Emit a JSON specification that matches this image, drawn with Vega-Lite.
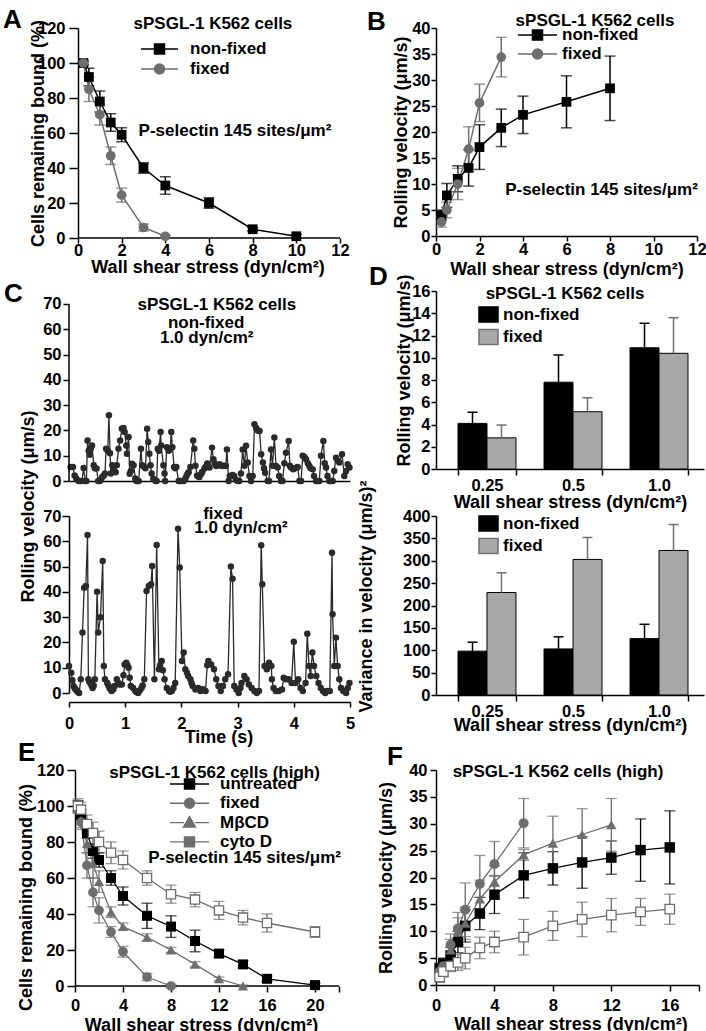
{
"$schema": "https://vega.github.io/schema/vega-lite/v6.json",
"padding": {"left": 2, "top": 6, "right": 0, "bottom": 0},
"config": {
  "font": "Liberation Sans",
  "view": {"stroke": null},
  "axis": {"labelFont": "Liberation Sans", "labelFontSize": 16.5, "labelFontWeight": "bold", "labelColor": "#000000", "titleFont": "Liberation Sans", "titleFontSize": 18, "titleFontWeight": "bold", "titleColor": "#000000", "domainColor": "#000000", "domainWidth": 1.5, "tickColor": "#000000", "tickWidth": 1.5, "grid": false, "labelFlush": false, "labelOverlap": false, "labelBound": false},
  "axisY": {"titleAngle": -90, "titleBaseline": "bottom", "titleAlign": "center"},
  "legend": {"padding": 0, "labelFont": "Liberation Sans", "labelFontSize": 17, "labelFontWeight": "bold", "labelColor": "#000000", "labelLimit": 300},
  "text": {"font": "Liberation Sans", "fontWeight": "bold", "fontSize": 17, "color": "#000000"}
},
"datasets": {
  "A": [
    {"s":"non-fixed","x":0.25,"y":100,"e":1},{"s":"non-fixed","x":0.5,"y":92,"e":5},{"s":"non-fixed","x":1,"y":78,"e":6},{"s":"non-fixed","x":1.5,"y":66,"e":5},{"s":"non-fixed","x":2,"y":59,"e":4},{"s":"non-fixed","x":3,"y":40,"e":3},{"s":"non-fixed","x":4,"y":30,"e":5},{"s":"non-fixed","x":6,"y":20,"e":3},{"s":"non-fixed","x":8,"y":5,"e":1},{"s":"non-fixed","x":10,"y":1,"e":1},
    {"s":"fixed","x":0.25,"y":100,"e":1},{"s":"fixed","x":0.5,"y":85,"e":7},{"s":"fixed","x":1,"y":70.5,"e":6},{"s":"fixed","x":1.5,"y":47,"e":5},{"s":"fixed","x":2,"y":24.5,"e":4},{"s":"fixed","x":3,"y":6,"e":2},{"s":"fixed","x":4,"y":1,"e":0.5}
  ],
  "B": [
    {"s":"non-fixed","x":0.25,"y":4,"e":1},{"s":"non-fixed","x":0.5,"y":7.8,"e":2.3},{"s":"non-fixed","x":1,"y":11,"e":2.5},{"s":"non-fixed","x":1.5,"y":13.1,"e":3.5},{"s":"non-fixed","x":2,"y":17.1,"e":4.3},{"s":"non-fixed","x":3,"y":20.8,"e":3.6},{"s":"non-fixed","x":4,"y":23.3,"e":3.6},{"s":"non-fixed","x":6,"y":25.8,"e":5},{"s":"non-fixed","x":8,"y":28.4,"e":6.2},
    {"s":"fixed","x":0.25,"y":2.7,"e":1},{"s":"fixed","x":0.5,"y":5,"e":1.5},{"s":"fixed","x":1,"y":10,"e":3},{"s":"fixed","x":1.5,"y":16.7,"e":4.3},{"s":"fixed","x":2,"y":25.6,"e":3.6},{"s":"fixed","x":3,"y":34.4,"e":3.8}
  ],
  "Ct": [
    {"t":0.03,"v":5.5},{"t":0.07,"v":5.5},{"t":0.10,"v":2.2},{"t":0.13,"v":1.0},{"t":0.17,"v":0},{"t":0.20,"v":0},{"t":0.23,"v":0},{"t":0.26,"v":5.1},{"t":0.29,"v":0},{"t":0.31,"v":0},{"t":0.33,"v":16},{"t":0.35,"v":12},{"t":0.37,"v":10.4},{"t":0.39,"v":13},{"t":0.41,"v":14},{"t":0.44,"v":6.2},{"t":0.46,"v":5},{"t":0.49,"v":4.9},{"t":0.52,"v":0},{"t":0.55,"v":0},{"t":0.57,"v":0.5},{"t":0.59,"v":1.6},{"t":0.62,"v":2.2},{"t":0.64,"v":3},{"t":0.66,"v":12.8},{"t":0.69,"v":12},{"t":0.71,"v":26},{"t":0.73,"v":11},{"t":0.745,"v":3},{"t":0.77,"v":6.2},{"t":0.80,"v":4},{"t":0.83,"v":3.5},{"t":0.85,"v":6.2},{"t":0.88,"v":12.8},{"t":0.91,"v":16},{"t":0.94,"v":20.7},{"t":0.97,"v":21},{"t":0.99,"v":19.4},{"t":1.02,"v":14},{"t":1.03,"v":10.8},{"t":1.06,"v":17.4},{"t":1.08,"v":2.9},{"t":1.10,"v":4},{"t":1.12,"v":6.8},{"t":1.15,"v":6.2},{"t":1.18,"v":1},{"t":1.20,"v":0},{"t":1.22,"v":0},{"t":1.24,"v":0},{"t":1.28,"v":12.8},{"t":1.30,"v":6.2},{"t":1.34,"v":5.5},{"t":1.36,"v":5},{"t":1.39,"v":20.7},{"t":1.41,"v":15.4},{"t":1.43,"v":10.8},{"t":1.45,"v":6.2},{"t":1.47,"v":3},{"t":1.50,"v":0.9},{"t":1.54,"v":0},{"t":1.56,"v":0},{"t":1.58,"v":12.8},{"t":1.60,"v":12},{"t":1.63,"v":19.4},{"t":1.64,"v":14},{"t":1.68,"v":6.2},{"t":1.70,"v":3},{"t":1.71,"v":0},{"t":1.74,"v":13.4},{"t":1.77,"v":12},{"t":1.80,"v":12.5},{"t":1.82,"v":19.4},{"t":1.84,"v":13.4},{"t":1.87,"v":5.5},{"t":1.89,"v":5},{"t":1.91,"v":5.5},{"t":1.95,"v":0},{"t":1.98,"v":0},{"t":2.00,"v":0},{"t":2.04,"v":0},{"t":2.07,"v":0.9},{"t":2.09,"v":2},{"t":2.11,"v":2.9},{"t":2.13,"v":3.5},{"t":2.16,"v":5.5},{"t":2.21,"v":16},{"t":2.23,"v":12.8},{"t":2.25,"v":6},{"t":2.28,"v":2.2},{"t":2.30,"v":1.8},{"t":2.32,"v":1.6},{"t":2.35,"v":2.8},{"t":2.37,"v":3.6},{"t":2.41,"v":4.9},{"t":2.43,"v":5.5},{"t":2.46,"v":6.9},{"t":2.50,"v":5.3},{"t":2.545,"v":13.2},{"t":2.57,"v":8.6},{"t":2.59,"v":7},{"t":2.62,"v":5.9},{"t":2.65,"v":6.2},{"t":2.68,"v":6.6},{"t":2.71,"v":6},{"t":2.735,"v":5.9},{"t":2.76,"v":6},{"t":2.79,"v":5.9},{"t":2.81,"v":12.5},{"t":2.84,"v":0},{"t":2.86,"v":2},{"t":2.88,"v":2},{"t":2.91,"v":2.4},{"t":2.94,"v":2},{"t":2.97,"v":0.5},{"t":3.00,"v":0},{"t":3.03,"v":0},{"t":3.06,"v":3},{"t":3.09,"v":12.5},{"t":3.12,"v":6},{"t":3.15,"v":13.9},{"t":3.18,"v":7.3},{"t":3.21,"v":2},{"t":3.24,"v":0},{"t":3.27,"v":2},{"t":3.30,"v":22.4},{"t":3.33,"v":21},{"t":3.36,"v":20},{"t":3.39,"v":19.8},{"t":3.42,"v":10.6},{"t":3.45,"v":7.3},{"t":3.47,"v":5},{"t":3.49,"v":3.3},{"t":3.535,"v":0},{"t":3.56,"v":0},{"t":3.594,"v":12.5},{"t":3.62,"v":6},{"t":3.654,"v":17.2},{"t":3.683,"v":5.9},{"t":3.713,"v":5.3},{"t":3.74,"v":2},{"t":3.772,"v":0},{"t":3.80,"v":0},{"t":3.832,"v":7},{"t":3.861,"v":11.2},{"t":3.909,"v":15.8},{"t":3.93,"v":6},{"t":3.95,"v":5.3},{"t":3.99,"v":4.6},{"t":4.02,"v":5},{"t":4.051,"v":5.3},{"t":4.07,"v":5.5},{"t":4.099,"v":0},{"t":4.13,"v":0},{"t":4.158,"v":10},{"t":4.19,"v":9.5},{"t":4.217,"v":8.6},{"t":4.25,"v":7},{"t":4.276,"v":5.9},{"t":4.30,"v":5},{"t":4.336,"v":4.6},{"t":4.36,"v":2},{"t":4.395,"v":0},{"t":4.42,"v":0},{"t":4.454,"v":0},{"t":4.484,"v":10},{"t":4.526,"v":15.8},{"t":4.55,"v":7},{"t":4.573,"v":5.3},{"t":4.60,"v":2},{"t":4.632,"v":0},{"t":4.66,"v":0},{"t":4.692,"v":0},{"t":4.72,"v":4},{"t":4.751,"v":9.2},{"t":4.78,"v":8},{"t":4.81,"v":7.3},{"t":4.858,"v":10.6},{"t":4.899,"v":2},{"t":4.93,"v":4},{"t":4.959,"v":6.6},{"t":4.99,"v":5.3}
  ],
  "Cb": [
    {"t":0.00,"v":10.7},{"t":0.04,"v":8},{"t":0.06,"v":5},{"t":0.08,"v":2.8},{"t":0.10,"v":2},{"t":0.12,"v":1.4},{"t":0.15,"v":0.5},{"t":0.18,"v":0},{"t":0.21,"v":5.4},{"t":0.24,"v":23.9},{"t":0.27,"v":41.6},{"t":0.30,"v":42.3},{"t":0.33,"v":62.5},{"t":0.345,"v":5.4},{"t":0.36,"v":4.5},{"t":0.38,"v":4},{"t":0.40,"v":3},{"t":0.42,"v":2},{"t":0.44,"v":3},{"t":0.46,"v":5.4},{"t":0.50,"v":40},{"t":0.52,"v":23.9},{"t":0.56,"v":30},{"t":0.60,"v":52.2},{"t":0.62,"v":10.7},{"t":0.64,"v":5.4},{"t":0.68,"v":4},{"t":0.70,"v":3},{"t":0.72,"v":2},{"t":0.74,"v":1.5},{"t":0.76,"v":0.8},{"t":0.79,"v":1.5},{"t":0.81,"v":2.8},{"t":0.85,"v":5.4},{"t":0.88,"v":4},{"t":0.90,"v":3.4},{"t":0.94,"v":3.4},{"t":0.97,"v":7},{"t":0.99,"v":11.3},{"t":1.02,"v":12},{"t":1.04,"v":11},{"t":1.06,"v":10},{"t":1.08,"v":6},{"t":1.10,"v":2.8},{"t":1.14,"v":2},{"t":1.18,"v":0.8},{"t":1.20,"v":0.4},{"t":1.23,"v":0},{"t":1.26,"v":1},{"t":1.29,"v":2},{"t":1.31,"v":3},{"t":1.34,"v":5.4},{"t":1.38,"v":40.3},{"t":1.42,"v":42.3},{"t":1.46,"v":43},{"t":1.48,"v":50.2},{"t":1.52,"v":5.4},{"t":1.56,"v":58.5},{"t":1.60,"v":9.4},{"t":1.62,"v":11},{"t":1.65,"v":12.7},{"t":1.67,"v":9},{"t":1.70,"v":5.4},{"t":1.74,"v":2},{"t":1.78,"v":0.8},{"t":1.80,"v":0.5},{"t":1.83,"v":0.8},{"t":1.86,"v":2},{"t":1.89,"v":4},{"t":1.94,"v":65},{"t":1.97,"v":49.6},{"t":2.01,"v":12.7},{"t":2.04,"v":16},{"t":2.07,"v":9.4},{"t":2.10,"v":8},{"t":2.12,"v":6.7},{"t":2.16,"v":5.4},{"t":2.18,"v":4},{"t":2.20,"v":2.8},{"t":2.25,"v":1.4},{"t":2.30,"v":2},{"t":2.34,"v":0.8},{"t":2.38,"v":1.5},{"t":2.43,"v":0.8},{"t":2.46,"v":11},{"t":2.48,"v":12.7},{"t":2.53,"v":11.3},{"t":2.58,"v":9.4},{"t":2.62,"v":5.4},{"t":2.66,"v":2.8},{"t":2.70,"v":0.8},{"t":2.74,"v":2.8},{"t":2.78,"v":5.4},{"t":2.83,"v":7.4},{"t":2.88,"v":50},{"t":2.91,"v":45.2},{"t":2.94,"v":2.8},{"t":2.98,"v":1.4},{"t":3.02,"v":0},{"t":3.05,"v":2},{"t":3.07,"v":4},{"t":3.12,"v":6.7},{"t":3.16,"v":5.4},{"t":3.20,"v":3.4},{"t":3.25,"v":2},{"t":3.30,"v":0.8},{"t":3.34,"v":0},{"t":3.38,"v":0.8},{"t":3.42,"v":58.4},{"t":3.44,"v":43},{"t":3.48,"v":10.7},{"t":3.52,"v":9.4},{"t":3.56,"v":12},{"t":3.60,"v":10.7},{"t":3.61,"v":5.4},{"t":3.64,"v":2},{"t":3.68,"v":0.8},{"t":3.73,"v":0.8},{"t":3.79,"v":1.4},{"t":3.82,"v":6},{"t":3.86,"v":5.4},{"t":3.91,"v":5.4},{"t":3.96,"v":4},{"t":4.00,"v":20.3},{"t":4.03,"v":4},{"t":4.08,"v":5.4},{"t":4.12,"v":2},{"t":4.16,"v":0.8},{"t":4.21,"v":4},{"t":4.24,"v":23.4},{"t":4.27,"v":10.7},{"t":4.30,"v":6.7},{"t":4.33,"v":16},{"t":4.36,"v":10.7},{"t":4.40,"v":6.7},{"t":4.44,"v":4},{"t":4.48,"v":2},{"t":4.52,"v":0.8},{"t":4.56,"v":0},{"t":4.60,"v":0.8},{"t":4.64,"v":0.8},{"t":4.68,"v":55.5},{"t":4.69,"v":31.1},{"t":4.72,"v":10.7},{"t":4.75,"v":21.9},{"t":4.78,"v":10.7},{"t":4.81,"v":5.4},{"t":4.84,"v":2},{"t":4.88,"v":0.8},{"t":4.93,"v":0},{"t":4.96,"v":2},{"t":4.99,"v":4}
  ],
  "Dt": [
    {"g":"0.25","s":"non-fixed","v":4.1,"hi":5.1},{"g":"0.25","s":"fixed","v":2.8,"hi":3.95},{"g":"0.5","s":"non-fixed","v":7.8,"hi":10.25},{"g":"0.5","s":"fixed","v":5.15,"hi":6.4},{"g":"1.0","s":"non-fixed","v":10.9,"hi":13.1},{"g":"1.0","s":"fixed","v":10.4,"hi":13.6}
  ],
  "Db": [
    {"g":"0.25","s":"non-fixed","v":98,"hi":118},{"g":"0.25","s":"fixed","v":229,"hi":273},{"g":"0.5","s":"non-fixed","v":103,"hi":130},{"g":"0.5","s":"fixed","v":303,"hi":352},{"g":"1.0","s":"non-fixed","v":126,"hi":158},{"g":"1.0","s":"fixed","v":323,"hi":381}
  ],
  "E": [
    {"s":"untreated","x":0.25,"y":100,"e":3},{"s":"untreated","x":0.5,"y":95,"e":3},{"s":"untreated","x":1,"y":85,"e":3},{"s":"untreated","x":1.5,"y":75,"e":4},{"s":"untreated","x":2,"y":70,"e":4},{"s":"untreated","x":3,"y":60,"e":4},{"s":"untreated","x":4,"y":50,"e":5},{"s":"untreated","x":6,"y":39,"e":7},{"s":"untreated","x":8,"y":33,"e":6},{"s":"untreated","x":10,"y":25,"e":6},{"s":"untreated","x":12,"y":18,"e":2},{"s":"untreated","x":14,"y":12,"e":2},{"s":"untreated","x":16,"y":4,"e":1.5},{"s":"untreated","x":20,"y":0.5,"e":1},
    {"s":"fixed","x":0.25,"y":100,"e":3},{"s":"fixed","x":0.5,"y":91,"e":4},{"s":"fixed","x":1,"y":67,"e":7},{"s":"fixed","x":1.5,"y":52,"e":8},{"s":"fixed","x":2,"y":42,"e":7},{"s":"fixed","x":3,"y":30,"e":3},{"s":"fixed","x":4,"y":19,"e":3},{"s":"fixed","x":6,"y":5,"e":2},{"s":"fixed","x":8,"y":0,"e":1},
    {"s":"MβCD","x":0.25,"y":99,"e":3},{"s":"MβCD","x":0.5,"y":92,"e":4},{"s":"MβCD","x":1,"y":79,"e":5},{"s":"MβCD","x":1.5,"y":68,"e":8},{"s":"MβCD","x":2,"y":58,"e":6},{"s":"MβCD","x":3,"y":41,"e":3},{"s":"MβCD","x":4,"y":33,"e":2},{"s":"MβCD","x":6,"y":27,"e":2},{"s":"MβCD","x":8,"y":20,"e":1.5},{"s":"MβCD","x":10,"y":12,"e":1.5},{"s":"MβCD","x":12,"y":4,"e":1},{"s":"MβCD","x":14,"y":0,"e":0.5},
    {"s":"cyto D","x":0.25,"y":100,"e":4},{"s":"cyto D","x":0.5,"y":98,"e":4},{"s":"cyto D","x":1,"y":90,"e":5},{"s":"cyto D","x":1.5,"y":85,"e":6},{"s":"cyto D","x":2,"y":80,"e":6},{"s":"cyto D","x":3,"y":74,"e":6},{"s":"cyto D","x":4,"y":70,"e":5},{"s":"cyto D","x":6,"y":60,"e":4},{"s":"cyto D","x":8,"y":51,"e":5},{"s":"cyto D","x":10,"y":48,"e":4},{"s":"cyto D","x":12,"y":42,"e":5},{"s":"cyto D","x":14,"y":38,"e":4},{"s":"cyto D","x":16,"y":35,"e":5},{"s":"cyto D","x":20,"y":30,"e":3}
  ],
  "F": [
    {"s":"untreated","x":0.25,"y":3,"e":1},{"s":"untreated","x":0.5,"y":4,"e":1},{"s":"untreated","x":1,"y":5.5,"e":1.5},{"s":"untreated","x":1.5,"y":8,"e":2},{"s":"untreated","x":2,"y":11,"e":3},{"s":"untreated","x":3,"y":13.3,"e":3},{"s":"untreated","x":4,"y":16.8,"e":3.5},{"s":"untreated","x":6,"y":20.4,"e":4.2},{"s":"untreated","x":8,"y":21.7,"e":3.1},{"s":"untreated","x":10,"y":22.8,"e":4.8},{"s":"untreated","x":12,"y":23.7,"e":3.1},{"s":"untreated","x":14,"y":25.1,"e":5.8},{"s":"untreated","x":16,"y":25.6,"e":6.8},
    {"s":"fixed","x":0.25,"y":2.5,"e":1},{"s":"fixed","x":0.5,"y":3.5,"e":1},{"s":"fixed","x":1,"y":7.5,"e":2},{"s":"fixed","x":1.5,"y":10.5,"e":3},{"s":"fixed","x":2,"y":14,"e":5},{"s":"fixed","x":3,"y":18.8,"e":5.3},{"s":"fixed","x":4,"y":22.5,"e":4.2},{"s":"fixed","x":6,"y":30.1,"e":4.6},
    {"s":"MβCD","x":0.25,"y":2,"e":1},{"s":"MβCD","x":0.5,"y":3,"e":1},{"s":"MβCD","x":1,"y":6.5,"e":2},{"s":"MβCD","x":1.5,"y":10,"e":2.5},{"s":"MβCD","x":2,"y":11.5,"e":3},{"s":"MβCD","x":3,"y":16,"e":3.5},{"s":"MβCD","x":4,"y":19.2,"e":3},{"s":"MβCD","x":6,"y":24.2,"e":1},{"s":"MβCD","x":8,"y":26.4,"e":5},{"s":"MβCD","x":10,"y":28,"e":4.8},{"s":"MβCD","x":12,"y":29.8,"e":4.9},
    {"s":"cyto D","x":0.25,"y":1.5,"e":1},{"s":"cyto D","x":0.5,"y":2.5,"e":1},{"s":"cyto D","x":1,"y":3.5,"e":1},{"s":"cyto D","x":1.5,"y":4.2,"e":1.5},{"s":"cyto D","x":2,"y":5,"e":2},{"s":"cyto D","x":3,"y":6.9,"e":2},{"s":"cyto D","x":4,"y":8,"e":2},{"s":"cyto D","x":6,"y":8.9,"e":3.3},{"s":"cyto D","x":8,"y":11,"e":2.7},{"s":"cyto D","x":10,"y":12.2,"e":3.2},{"s":"cyto D","x":12,"y":13,"e":3.1},{"s":"cyto D","x":14,"y":13.6,"e":2.5},{"s":"cyto D","x":16,"y":14.1,"e":2.8}
  ]
},
"resolve": {"scale": {"color": "independent", "fill": "independent"}, "legend": {"color": "independent", "fill": "independent"}},
"bounds": "flush",
"align": "none",
"spacing": 0,
"columns": 4,
"concat": [
  {"width": 10, "height": 1, "data": {"values": [{}]}, "mark": {"type": "point", "opacity": 0}},
  {
    "width": 271, "height": 210,
    "data": {"name": "A"},
    "encoding": {
      "x": {"field": "x", "type": "quantitative", "scale": {"domain": [-0.412, 12], "nice": false, "zero": false}, "axis": {"values": [0,2,4,6,8,10,12], "domain": false, "title": "Wall shear stress (dyn/cm²)", "tickSize": 5, "labelPadding": -1, "titleY": 20, "titleX": 138.5}},
      "y": {"field": "y", "type": "quantitative", "scale": {"domain": [0, 120]}, "axis": {"values": [0,20,40,60,80,100,120], "offset": -9, "title": "Cells remaining bound (%)", "tickSize": 9, "labelPadding": 4, "titleX": -31}},
      "color": {"field": "s", "type": "nominal", "scale": {"domain": ["non-fixed", "fixed"], "range": ["#000000", "#6e6e6e"]}, "legend": {"orient": "none", "legendX": 82, "legendY": 12.5, "title": null, "symbolSize": 100, "labelOffset": 22, "rowPadding": 2, "encode": {"symbols": {"update": {"shape": {"signal": "datum.value === 'fixed' ? 'M-3.7,0H-1M1,0H3.7M-1,0A1,1,0,1,0,1,0A1,1,0,1,0,-1,0Z' : 'M-3.7,0H-1M1,0H3.7M-1,-1H1V1H-1Z'"}, "fill": {"signal": "datum.value === 'fixed' ? '#6e6e6e' : '#000000'"}, "stroke": {"signal": "datum.value === 'fixed' ? '#6e6e6e' : '#000000'"}, "strokeWidth": {"value": 1.5}, "opacity": {"value": 1}}}}}}
    },
    "layer": [
      {"transform": [{"filter": "datum.s == 'fixed' && datum.x == 4"}], "mark": {"type": "rule", "strokeWidth": 1.5}, "encoding": {"x": {"datum": 0}, "x2": {"datum": 12}, "y": {"datum": 0}, "color": {"value": "#000000"}}},
      {"mark": {"type": "errorbar", "ticks": true, "size": 11, "thickness": 1.5}, "encoding": {"yError": {"field": "e"}}},
      {"mark": {"type": "line", "strokeWidth": 1.5}, "encoding": {}},
      {"transform": [{"filter": "datum.s == 'non-fixed'"}], "mark": {"type": "point", "shape": "square", "filled": true, "opacity": 1, "size": 95}, "encoding": {}},
      {"transform": [{"filter": "datum.s == 'fixed'"}], "mark": {"type": "point", "shape": "circle", "filled": true, "opacity": 1, "size": 95}, "encoding": {}},
      {"transform": [{"filter": "datum.s == 'fixed' && datum.x == 4"}], "mark": {"type": "text"}, "encoding": {"x": {"datum": 6.18}, "y": {"datum": 122.3}, "text": {"value": "sPSGL-1 K562 cells"}, "color": {"value": "#000000"}}},
      {"transform": [{"filter": "datum.s == 'fixed' && datum.x == 4"}], "mark": {"type": "text"}, "encoding": {"x": {"datum": 7.19}, "y": {"datum": 61.1}, "text": {"value": "P-selectin 145 sites/μm²"}, "color": {"value": "#000000"}}},
      {"transform": [{"filter": "datum.s == 'fixed' && datum.x == 4"}], "mark": {"type": "text", "fontSize": 26, "align": "left", "baseline": "alphabetic"}, "encoding": {"x": {"datum": -3.435}, "y": {"datum": 120.2}, "text": {"value": "A"}, "color": {"value": "#000000"}}}
    ]
  },
  {"width": 86, "height": 1, "data": {"values": [{}]}, "mark": {"type": "point", "opacity": 0}},
  {
    "width": 261, "height": 208,
    "data": {"name": "B"},
    "encoding": {
      "x": {"field": "x", "type": "quantitative", "scale": {"domain": [0, 12]}, "axis": {"values": [0,2,4,6,8,10,12], "title": "Wall shear stress (dyn/cm²)", "tickSize": 5, "labelPadding": 0, "titleY": 24}},
      "y": {"field": "y", "type": "quantitative", "scale": {"domain": [0, 40]}, "axis": {"values": [0,5,10,15,20,25,30,35,40], "title": "Rolling velocity (μm/s)", "tickSize": 5, "labelPadding": 1, "titleX": -26}},
      "color": {"field": "s", "type": "nominal", "scale": {"domain": ["non-fixed", "fixed"], "range": ["#000000", "#6e6e6e"]}, "legend": {"orient": "none", "legendX": 93, "legendY": -1.5, "title": null, "symbolSize": 100, "labelOffset": 16, "rowPadding": 1, "encode": {"symbols": {"update": {"shape": {"signal": "datum.value === 'fixed' ? 'M-3.9,0H-1M1,0H3.9M-1,0A1,1,0,1,0,1,0A1,1,0,1,0,-1,0Z' : 'M-3.9,0H-1M1,0H3.9M-1,-1H1V1H-1Z'"}, "fill": {"signal": "datum.value === 'fixed' ? '#6e6e6e' : '#000000'"}, "stroke": {"signal": "datum.value === 'fixed' ? '#6e6e6e' : '#000000'"}, "strokeWidth": {"value": 1.5}, "opacity": {"value": 1}}}}}}
    },
    "layer": [
      {"mark": {"type": "errorbar", "ticks": true, "size": 11, "thickness": 1.5}, "encoding": {"yError": {"field": "e"}}},
      {"mark": {"type": "line", "strokeWidth": 1.5}, "encoding": {}},
      {"transform": [{"filter": "datum.s == 'non-fixed'"}], "mark": {"type": "point", "shape": "square", "filled": true, "opacity": 1, "size": 95}, "encoding": {}},
      {"transform": [{"filter": "datum.s == 'fixed'"}], "mark": {"type": "point", "shape": "circle", "filled": true, "opacity": 1, "size": 95}, "encoding": {}},
      {"transform": [{"filter": "datum.s == 'fixed' && datum.x == 3"}], "mark": {"type": "text"}, "encoding": {"x": {"datum": 7.31}, "y": {"datum": 41.35}, "text": {"value": "sPSGL-1 K562 cells"}, "color": {"value": "#000000"}}},
      {"transform": [{"filter": "datum.s == 'fixed' && datum.x == 3"}], "mark": {"type": "text"}, "encoding": {"x": {"datum": 7.61}, "y": {"datum": 8.85}, "text": {"value": "P-selectin 145 sites/μm²"}, "color": {"value": "#000000"}}},
      {"transform": [{"filter": "datum.s == 'fixed' && datum.x == 3"}], "mark": {"type": "text", "fontSize": 26, "align": "left", "baseline": "alphabetic"}, "encoding": {"x": {"datum": -3.172}, "y": {"datum": 39.7}, "text": {"value": "B"}, "color": {"value": "#000000"}}}
    ]
  },

  {"width": 1, "height": 1, "data": {"values": [{}]}, "mark": {"type": "point", "opacity": 0}},
  {"width": 1, "height": 53, "data": {"values": [{}]}, "mark": {"type": "point", "opacity": 0}},
  {"width": 1, "height": 1, "data": {"values": [{}]}, "mark": {"type": "point", "opacity": 0}},
  {"width": 1, "height": 1, "data": {"values": [{}]}, "mark": {"type": "point", "opacity": 0}},

  {"width": 1, "height": 1, "data": {"values": [{}]}, "mark": {"type": "point", "opacity": 0}},
  {
    "width": 281, "height": 190,
    "data": {"name": "Ct"},
    "encoding": {
      "x": {"field": "t", "type": "quantitative", "scale": {"domain": [0, 5]}, "axis": {"ticks": false, "labels": false, "title": null}},
      "y": {"field": "v", "type": "quantitative", "scale": {"domain": [0, 75.14]}, "axis": {"values": [0,10,20,30,40,50,60,70], "title": null, "domain": false, "tickSize": 6, "labelPadding": 2}}
    },
    "layer": [
      {"mark": {"type": "line", "color": "#2a2a2a", "strokeWidth": 1.3}, "encoding": {}},
      {"mark": {"type": "point", "filled": true, "color": "#2a2a2a", "size": 42, "opacity": 1}, "encoding": {}},
      {"transform": [{"filter": "datum.t == 0.03"}], "mark": {"type": "rule", "color": "#000000", "strokeWidth": 1.5}, "encoding": {"x": {"datum": 0}, "y": {"datum": 0}, "y2": {"datum": 70}}},
      {"transform": [{"filter": "datum.t == 0.03"}], "mark": {"type": "text"}, "encoding": {"x": {"datum": 2.63}, "y": {"datum": 69.6}, "text": {"value": "sPSGL-1 K562 cells"}}},
      {"transform": [{"filter": "datum.t == 0.03"}], "mark": {"type": "text"}, "encoding": {"x": {"datum": 2.44}, "y": {"datum": 62.5}, "text": {"value": "non-fixed"}}},
      {"transform": [{"filter": "datum.t == 0.03"}], "mark": {"type": "text"}, "encoding": {"x": {"datum": 2.45}, "y": {"datum": 56.5}, "text": {"value": "1.0 dyn/cm²"}}},
      {"transform": [{"filter": "datum.t == 0.03"}], "mark": {"type": "text", "fontSize": 26, "align": "left", "baseline": "alphabetic"}, "encoding": {"x": {"datum": -1.157}, "y": {"datum": 70.95}, "text": {"value": "C"}}}
    ]
  },
  {"width": 86, "height": 1, "data": {"values": [{}]}, "mark": {"type": "point", "opacity": 0}},
  {
    "width": 268, "height": 178,
    "data": {"name": "Dt"},
    "encoding": {
      "x": {"field": "g", "type": "nominal", "sort": ["0.25", "0.5", "1.0"], "scale": {"paddingInner": 0.326, "paddingOuter": 0.221, "align": 0.579}, "axis": {"title": "Wall shear stress (dyn/cm²)", "labelAngle": 0, "tickBand": "extent", "tickSize": 6, "labelPadding": 2, "titleY": 24}},
      "y": {"field": "v", "type": "quantitative", "scale": {"domain": [0, 16]}, "axis": {"values": [0,2,4,6,8,10,12,14,16], "title": "Rolling velocity (μm/s)", "tickSize": 5, "labelPadding": 1, "titleX": -23, "titleY": 79}}
    },
    "layer": [
      {"mark": {"type": "bar", "stroke": "#000000", "strokeWidth": 1}, "encoding": {"xOffset": {"field": "s", "type": "nominal", "sort": ["non-fixed", "fixed"]}, "fill": {"field": "s", "type": "nominal", "scale": {"domain": ["non-fixed", "fixed"], "range": ["#000000", "#a8a8a8"]}, "legend": {"orient": "none", "legendX": 43.5, "legendY": 14.5, "title": null, "symbolType": "M-1.19,-0.95H1.19V0.95H-1.19Z", "symbolSize": 256, "labelOffset": 5.5, "rowPadding": 0.5, "encode": {"symbols": {"update": {"stroke": {"value": "#000000"}, "strokeWidth": {"value": 1}, "opacity": {"value": 1}}}}}}}},
      {"mark": {"type": "rule", "strokeWidth": 1.5}, "encoding": {"xOffset": {"field": "s", "type": "nominal", "sort": ["non-fixed", "fixed"]}, "y2": {"field": "hi"}, "color": {"field": "s", "type": "nominal", "scale": {"domain": ["non-fixed", "fixed"], "range": ["#000000", "#707070"]}, "legend": null}}},
      {"mark": {"type": "tick", "size": 10, "thickness": 1.5, "opacity": 1}, "encoding": {"xOffset": {"field": "s", "type": "nominal", "sort": ["non-fixed", "fixed"]}, "y": {"field": "hi", "type": "quantitative"}, "color": {"field": "s", "type": "nominal", "scale": {"domain": ["non-fixed", "fixed"], "range": ["#000000", "#707070"]}, "legend": null}}},
      {"transform": [{"filter": "datum.g == '0.25' && datum.s == 'fixed'"}], "mark": {"type": "text", "dx": -8}, "encoding": {"x": {"datum": "0.5", "type": "nominal"}, "y": {"datum": 15.7}, "text": {"value": "sPSGL-1 K562 cells"}}},
      {"transform": [{"filter": "datum.g == '0.25' && datum.s == 'fixed'"}], "mark": {"type": "text", "fontSize": 26, "align": "left", "baseline": "alphabetic", "dx": -118}, "encoding": {"x": {"datum": "0.25", "type": "nominal"}, "y": {"datum": 16.58}, "text": {"value": "D"}}}
    ]
  },

  {"width": 1, "height": 1, "data": {"values": [{}]}, "mark": {"type": "point", "opacity": 0}},
  {"width": 1, "height": 35, "data": {"values": [{}]}, "mark": {"type": "point", "opacity": 0}},
  {"width": 1, "height": 1, "data": {"values": [{}]}, "mark": {"type": "point", "opacity": 0}},
  {"width": 1, "height": 1, "data": {"values": [{}]}, "mark": {"type": "point", "opacity": 0}},

  {"width": 1, "height": 1, "data": {"values": [{}]}, "mark": {"type": "point", "opacity": 0}},
  {
    "width": 281, "height": 177,
    "data": {"name": "Cb"},
    "encoding": {
      "x": {"field": "t", "type": "quantitative", "scale": {"domain": [0, 5]}, "axis": {"values": [0,1,2,3,4,5], "title": "Time (s)", "offset": 9, "tickSize": 5, "labelPadding": 8, "titleY": 26, "titleX": 149.5}},
      "y": {"field": "v", "type": "quantitative", "scale": {"domain": [0, 70]}, "axis": {"values": [0,10,20,30,40,50,60,70], "title": "Rolling velocity (μm/s)", "tickSize": 7, "labelPadding": 1, "titleX": -32, "titleY": -10}}
    },
    "layer": [
      {"mark": {"type": "line", "color": "#2a2a2a", "strokeWidth": 1.3}, "encoding": {}},
      {"mark": {"type": "point", "filled": true, "color": "#2a2a2a", "size": 42, "opacity": 1}, "encoding": {}},
      {"transform": [{"filter": "datum.t == 0"}], "mark": {"type": "text"}, "encoding": {"x": {"datum": 2.74}, "y": {"datum": 70.8}, "text": {"value": "fixed"}}},
      {"transform": [{"filter": "datum.t == 0"}], "mark": {"type": "text"}, "encoding": {"x": {"datum": 3.06}, "y": {"datum": 65.2}, "text": {"value": "1.0 dyn/cm²"}}}
    ]
  },
  {"width": 86, "height": 1, "data": {"values": [{}]}, "mark": {"type": "point", "opacity": 0}},
  {
    "width": 268, "height": 179,
    "data": {"name": "Db"},
    "encoding": {
      "x": {"field": "g", "type": "nominal", "sort": ["0.25", "0.5", "1.0"], "scale": {"paddingInner": 0.326, "paddingOuter": 0.221, "align": 0.579}, "axis": {"title": "Wall shear stress (dyn/cm²)", "labelAngle": 0, "tickBand": "extent", "tickSize": 6, "labelPadding": 2, "titleY": 21}},
      "y": {"field": "v", "type": "quantitative", "scale": {"domain": [0, 400]}, "axis": {"values": [0,50,100,150,200,250,300,350,400], "title": "Variance in velocity (μm/s)²", "tickSize": 5, "labelPadding": 1, "titleX": -61, "titleY": 80}}
    },
    "layer": [
      {"mark": {"type": "bar", "stroke": "#000000", "strokeWidth": 1}, "encoding": {"xOffset": {"field": "s", "type": "nominal", "sort": ["non-fixed", "fixed"]}, "fill": {"field": "s", "type": "nominal", "scale": {"domain": ["non-fixed", "fixed"], "range": ["#000000", "#a8a8a8"]}, "legend": {"orient": "none", "legendX": 43.5, "legendY": -1.5, "title": null, "symbolType": "M-1.19,-0.95H1.19V0.95H-1.19Z", "symbolSize": 256, "labelOffset": 5.5, "rowPadding": 0.5, "encode": {"symbols": {"update": {"stroke": {"value": "#000000"}, "strokeWidth": {"value": 1}, "opacity": {"value": 1}}}}}}}},
      {"mark": {"type": "rule", "strokeWidth": 1.5}, "encoding": {"xOffset": {"field": "s", "type": "nominal", "sort": ["non-fixed", "fixed"]}, "y2": {"field": "hi"}, "color": {"field": "s", "type": "nominal", "scale": {"domain": ["non-fixed", "fixed"], "range": ["#000000", "#707070"]}, "legend": null}}},
      {"mark": {"type": "tick", "size": 10, "thickness": 1.5, "opacity": 1}, "encoding": {"xOffset": {"field": "s", "type": "nominal", "sort": ["non-fixed", "fixed"]}, "y": {"field": "hi", "type": "quantitative"}, "color": {"field": "s", "type": "nominal", "scale": {"domain": ["non-fixed", "fixed"], "range": ["#000000", "#707070"]}, "legend": null}}}
    ]
  },

  {"width": 1, "height": 1, "data": {"values": [{}]}, "mark": {"type": "point", "opacity": 0}},
  {"width": 1, "height": 75, "data": {"values": [{}]}, "mark": {"type": "point", "opacity": 0}},
  {"width": 1, "height": 1, "data": {"values": [{}]}, "mark": {"type": "point", "opacity": 0}},
  {"width": 1, "height": 1, "data": {"values": [{}]}, "mark": {"type": "point", "opacity": 0}},

  {"width": 1, "height": 1, "data": {"values": [{}]}, "mark": {"type": "point", "opacity": 0}},
  {
    "width": 270, "height": 216,
    "data": {"name": "E"},
    "encoding": {
      "x": {"field": "x", "type": "quantitative", "scale": {"domain": [-0.5, 22], "nice": false, "zero": false}, "axis": {"values": [0,4,8,12,16,20,22], "domain": false, "labelExpr": "datum.value == 22 ? '' : datum.label", "title": "Wall shear stress (dyn/cm²)", "tickSize": 6, "labelPadding": 5.5, "titleY": 30, "titleX": 132}},
      "y": {"field": "y", "type": "quantitative", "scale": {"domain": [0, 120]}, "axis": {"values": [0,20,40,60,80,100,120], "offset": -6, "title": "Cells remaining bound (%)", "tickSize": 8, "labelPadding": 3, "titleX": -40, "titleY": 127}},
      "color": {"field": "s", "type": "nominal", "scale": {"domain": ["untreated", "fixed", "MβCD", "cyto D"], "range": ["#000000", "#6e6e6e", "#6e6e6e", "#6e6e6e"]}, "legend": {"orient": "none", "legendX": 112, "legendY": 5.5, "title": null, "symbolSize": 100, "labelOffset": 22, "rowPadding": 1.3, "encode": {"symbols": {"update": {"shape": {"signal": "datum.value === 'fixed' ? 'M-3.9,0H-1M1,0H3.9M-1,0A1,1,0,1,0,1,0A1,1,0,1,0,-1,0Z' : datum.value === 'MβCD' ? 'M-3.9,0H-1.1M1.1,0H3.9M0,-1.2L1.2,0.9H-1.2Z' : 'M-3.9,0H-1M1,0H3.9M-1,-1H1V1H-1Z'"}, "fill": {"signal": "datum.value === 'untreated' ? '#000000' : datum.value === 'cyto D' ? '#ffffff' : '#6e6e6e'"}, "stroke": {"signal": "datum.value === 'untreated' ? '#000000' : '#6e6e6e'"}, "strokeWidth": {"value": 1.4}, "opacity": {"value": 1}}}}}}
    },
    "layer": [
      {"transform": [{"filter": "datum.s == 'cyto D' && datum.x == 20"}], "mark": {"type": "rule", "strokeWidth": 1.5}, "encoding": {"x": {"datum": 0}, "x2": {"datum": 22}, "y": {"datum": 0}, "color": {"value": "#000000"}}},
      {"mark": {"type": "errorbar", "ticks": true, "size": 11, "thickness": 1.3}, "encoding": {"yError": {"field": "e"}}},
      {"mark": {"type": "line", "strokeWidth": 1.3}, "encoding": {}},
      {"transform": [{"filter": "datum.s == 'untreated'"}], "mark": {"type": "point", "shape": "square", "filled": true, "opacity": 1, "size": 100}, "encoding": {}},
      {"transform": [{"filter": "datum.s == 'fixed'"}], "mark": {"type": "point", "shape": "circle", "filled": true, "opacity": 1, "size": 95}, "encoding": {}},
      {"transform": [{"filter": "datum.s == 'MβCD'"}], "mark": {"type": "point", "shape": "triangle-up", "filled": true, "opacity": 1, "size": 105}, "encoding": {}},
      {"transform": [{"filter": "datum.s == 'cyto D'"}], "mark": {"type": "point", "shape": "square", "filled": true, "opacity": 1, "size": 85, "strokeWidth": 1.3}, "encoding": {"fill": {"value": "#ffffff"}, "stroke": {"value": "#6e6e6e"}}},
      {"transform": [{"filter": "datum.s == 'cyto D' && datum.x == 20"}], "mark": {"type": "text"}, "encoding": {"x": {"datum": 11.63}, "y": {"datum": 118.3}, "text": {"value": "sPSGL-1 K562 cells (high)"}, "color": {"value": "#000000"}}},
      {"transform": [{"filter": "datum.s == 'cyto D' && datum.x == 20"}], "mark": {"type": "text"}, "encoding": {"x": {"datum": 14.13}, "y": {"datum": 71.1}, "text": {"value": "P-selectin 145 sites/μm²"}, "color": {"value": "#000000"}}},
      {"transform": [{"filter": "datum.s == 'cyto D' && datum.x == 20"}], "mark": {"type": "text", "fontSize": 26, "align": "left", "baseline": "alphabetic"}, "encoding": {"x": {"datum": -4.75}, "y": {"datum": 125.2}, "text": {"value": "E"}, "color": {"value": "#000000"}}}
    ]
  },
  {"width": 86, "height": 1, "data": {"values": [{}]}, "mark": {"type": "point", "opacity": 0}},
  {
    "width": 263, "height": 215,
    "data": {"name": "F"},
    "encoding": {
      "x": {"field": "x", "type": "quantitative", "scale": {"domain": [0, 18]}, "axis": {"values": [0,4,8,12,16,18], "labelExpr": "datum.value == 18 ? '' : datum.label", "title": "Wall shear stress (dyn/cm²)", "tickSize": 6, "labelPadding": 6, "titleY": 30, "titleX": 134.5}},
      "y": {"field": "y", "type": "quantitative", "scale": {"domain": [0, 40]}, "axis": {"values": [0,5,10,15,20,25,30,35,40], "title": "Rolling velocity (μm/s)", "tickSize": 6, "labelPadding": 3, "titleX": -41}},
      "color": {"field": "s", "type": "nominal", "scale": {"domain": ["untreated", "fixed", "MβCD", "cyto D"], "range": ["#000000", "#6e6e6e", "#6e6e6e", "#6e6e6e"]}, "legend": null}
    },
    "layer": [
      {"mark": {"type": "errorbar", "ticks": true, "size": 11, "thickness": 1.3}, "encoding": {"yError": {"field": "e"}}},
      {"mark": {"type": "line", "strokeWidth": 1.3}, "encoding": {}},
      {"transform": [{"filter": "datum.s == 'untreated'"}], "mark": {"type": "point", "shape": "square", "filled": true, "opacity": 1, "size": 110}, "encoding": {}},
      {"transform": [{"filter": "datum.s == 'fixed'"}], "mark": {"type": "point", "shape": "circle", "filled": true, "opacity": 1, "size": 100}, "encoding": {}},
      {"transform": [{"filter": "datum.s == 'MβCD'"}], "mark": {"type": "point", "shape": "triangle-up", "filled": true, "opacity": 1, "size": 110}, "encoding": {}},
      {"transform": [{"filter": "datum.s == 'cyto D'"}], "mark": {"type": "point", "shape": "square", "filled": true, "opacity": 1, "size": 90, "strokeWidth": 1.3}, "encoding": {"fill": {"value": "#ffffff"}, "stroke": {"value": "#6e6e6e"}}},
      {"transform": [{"filter": "datum.s == 'cyto D' && datum.x == 16"}], "mark": {"type": "text"}, "encoding": {"x": {"datum": 8.35}, "y": {"datum": 39.6}, "text": {"value": "sPSGL-1 K562 cells (high)"}, "color": {"value": "#000000"}}},
      {"transform": [{"filter": "datum.s == 'cyto D' && datum.x == 16"}], "mark": {"type": "text", "fontSize": 26, "align": "left", "baseline": "alphabetic"}, "encoding": {"x": {"datum": -3.35}, "y": {"datum": 41.0}, "text": {"value": "F"}, "color": {"value": "#000000"}}}
    ]
  }
]
}
